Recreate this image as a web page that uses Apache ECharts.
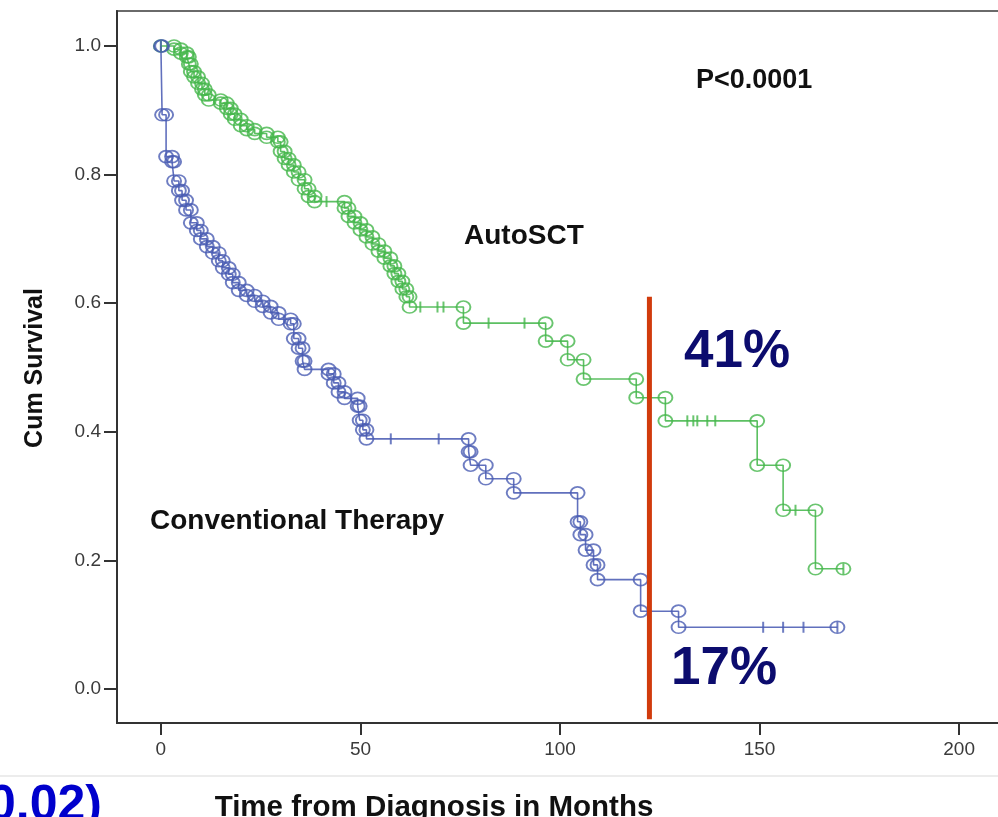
<!DOCTYPE html>
<html>
<head>
<meta charset="utf-8">
<script src="https://cdn.jsdelivr.net/npm/echarts@6/dist/echarts.min.js"></script>
<style>
html,body{margin:0;padding:0;background:#fff;}
#chart{width:998px;height:817px;}
</style>
</head>
<body>
<div id="chart"></div>
<script>
// ---- data ----
const xTicks = [0, 50, 100, 150, 200];
const yTicks = [0.0, 0.2, 0.4, 0.6, 0.8, 1.0];

// AutoSCT: [month, survival after event]
const autoEvents = [
  [3.3,0.995],[5,0.989],[6.5,0.983],[7,0.972],[7.5,0.960],[8.3,0.952],[9.3,0.942],
  [10.3,0.933],[11,0.924],[12,0.916],[15,0.911],[16.5,0.903],[17.5,0.894],[18.5,0.886],
  [20,0.876],[21.5,0.870],[23.5,0.864],[26.5,0.858],[29.3,0.851],[30,0.836],[31,0.825],
  [32,0.815],[33.3,0.804],[34.5,0.792],[36,0.778],[37,0.766],[38.5,0.758],[46,0.748],
  [47,0.735],[48.5,0.725],[50,0.714],[51.5,0.703],[53,0.692],[54.5,0.681],[56,0.670],
  [57.5,0.658],[58.5,0.646],[59.5,0.634],[60.5,0.622],[61.5,0.610],[62.3,0.594],
  [75.8,0.569],[96.4,0.541],[101.9,0.512],[105.9,0.482],[119.1,0.453],[126.4,0.417],
  [149.4,0.348],[155.9,0.278],[164,0.187]
];
const autoCensor = [0, 41.5, 65, 69.3, 70.8, 82.1, 91.1, 131.9, 133.4, 134.4, 136.9, 138.9, 159, 171];
const autoEnd = 171;

// Conventional Therapy
const convEvents = [
  [0.3,0.893],[1.3,0.828],[2.8,0.820],[3.3,0.790],[4.5,0.775],[5.3,0.760],[6.3,0.745],
  [7.5,0.725],[9,0.713],[10,0.700],[11.5,0.688],[13,0.678],[14.5,0.666],[15.5,0.655],
  [17,0.645],[18,0.632],[19.5,0.620],[21.5,0.612],[23.5,0.603],[25.5,0.595],[27.5,0.585],
  [29.5,0.575],[32.5,0.568],[33.3,0.545],[34.5,0.530],[35.5,0.510],[36,0.497],[42,0.490],
  [43.3,0.476],[44.5,0.462],[46,0.452],[49.3,0.440],[49.8,0.418],[50.6,0.403],[51.5,0.389],
  [77.1,0.369],[77.6,0.348],[81.4,0.327],[88.4,0.305],[104.4,0.260],[105.1,0.240],
  [106.4,0.216],[108.4,0.193],[109.4,0.170],[120.2,0.121],[129.7,0.096]
];
const convCensor = [0, 57.6, 69.6, 150.9, 155.9, 161, 169.5];
const convEnd = 169.5;

const cutoffMonth = 122.4;
const cutoffTop = 0.61;

// ---- helpers ----
const GREEN = '#45b64b', GREEN_L = '#5cc062';
const BLUE = '#4a5db3', BLUE_L = '#6170bd';

function stepPath(ev, end) {
  const pts = [[0, 1]];
  ev.forEach(e => pts.push([e[0], e[1]]));
  pts.push([end, ev[ev.length - 1][1]]);
  return pts;
}
function corners(ev, end) {
  const pts = [[0, 1]];
  let prev = 1;
  ev.forEach(e => { pts.push([e[0], prev]); pts.push([e[0], e[1]]); prev = e[1]; });
  pts.push([end, prev]);
  return pts;
}
function survAt(ev, t) {
  let s = 1;
  ev.forEach(e => { if (e[0] <= t) s = e[1]; });
  return s;
}
function censorPts(ev, cs) { return cs.map(c => [c, survAt(ev, c)]); }

function curve(name, ev, end, cs, col, colL) {
  return [
    { name: name, type: 'line', step: 'end', data: stepPath(ev, end), showSymbol: false,
      symbol: 'none', lineStyle: { color: colL, width: 1.6 }, z: 3, animation: false },
    { name: name + ' o', type: 'scatter', data: corners(ev, end), symbol: 'circle',
      symbolSize: [14, 12], itemStyle: { color: 'rgba(0,0,0,0)', borderColor: col, borderWidth: 1.8 },
      z: 4, animation: false, silent: true },
    { name: name + ' +', type: 'scatter', data: censorPts(ev, cs), symbol: 'rect',
      symbolSize: [2, 11], itemStyle: { color: col }, z: 5, animation: false, silent: true }
  ];
}

const chart = echarts.init(document.getElementById('chart'));
const option = {
  backgroundColor: '#fff',
  animation: false,
  grid: { left: 117, top: 11, width: 902, height: 712, show: true, outerBoundsMode: 'none',
          containLabel: false,
          borderColor: '#6a6a6a', borderWidth: 2, backgroundColor: 'transparent' },
  xAxis: {
    type: 'value', min: -11, max: 215,
    axisLine: { show: true, onZero: false, lineStyle: { color: '#333', width: 2 } },
    axisTick: { show: true, customValues: xTicks, length: 12, inside: false, lineStyle: { color: '#333', width: 2 } },
    axisLabel: { customValues: xTicks, margin: 17, fontFamily: 'Liberation Sans, Arial, sans-serif',
                 fontSize: 19, color: '#3a3a3a' },
    splitLine: { show: false }
  },
  yAxis: {
    type: 'value', min: -0.0529, max: 1.0544,
    axisLine: { show: true, onZero: false, lineStyle: { color: '#333', width: 2 } },
    axisTick: { show: true, customValues: yTicks, length: 13, inside: false, lineStyle: { color: '#333', width: 2 } },
    axisLabel: { customValues: yTicks, margin: 16, fontFamily: 'Liberation Sans, Arial, sans-serif',
                 fontSize: 19, color: '#3a3a3a', formatter: v => v.toFixed(1) },
    splitLine: { show: false }
  },
  series: [
    ...curve('AutoSCT', autoEvents, autoEnd, autoCensor, GREEN, GREEN_L),
    ...curve('Conventional Therapy', convEvents, convEnd, convCensor, BLUE, BLUE_L),
    { name: 'cutoff', type: 'line', data: [[cutoffMonth, -0.047], [cutoffMonth, cutoffTop]],
      symbol: 'none', lineStyle: { color: '#d13b0c', width: 5 }, z: 6, animation: false }
  ],
  graphic: [
    { type: 'rect', shape: { x: 0, y: 775, width: 998, height: 2 }, style: { fill: '#ececec' }, silent: true },
    { type: 'text', x: 696, y: 94, style: { text: 'P<0.0001', font: 'bold 27px "Liberation Sans", Arial, sans-serif',
      fill: '#111', textVerticalAlign: 'bottom' } },
    { type: 'text', x: 464, y: 250, style: { text: 'AutoSCT', font: 'bold 28px "Liberation Sans", Arial, sans-serif',
      fill: '#111', textVerticalAlign: 'bottom' } },
    { type: 'text', x: 150, y: 535, style: { text: 'Conventional Therapy', font: 'bold 28px "Liberation Sans", Arial, sans-serif',
      fill: '#111', textVerticalAlign: 'bottom' } },
    { type: 'text', x: 684, y: 379, style: { text: '41%', font: 'bold 53px "Liberation Sans", Arial, sans-serif',
      fill: '#0c0c6e', textVerticalAlign: 'bottom' } },
    { type: 'text', x: 671, y: 696, style: { text: '17%', font: 'bold 53px "Liberation Sans", Arial, sans-serif',
      fill: '#0c0c6e', textVerticalAlign: 'bottom' } },
    { type: 'text', x: 35, y: 368, rotation: Math.PI / 2,
      style: { text: 'Cum Survival', font: 'bold 25px "Liberation Sans", Arial, sans-serif',
      fill: '#111', textAlign: 'center', textVerticalAlign: 'middle' } },
    { type: 'text', x: 434, y: 808, style: { text: 'Time from Diagnosis in Months',
      font: 'bold 29.5px "Liberation Sans", Arial, sans-serif', fill: '#111', textAlign: 'center', textVerticalAlign: 'middle' } },
    { type: 'text', x: 102, y: 831, style: { text: '(p=0.02)', font: 'bold 50px "Liberation Sans", Arial, sans-serif',
      fill: '#0000cc', textAlign: 'right', textVerticalAlign: 'bottom' } }
  ]
};
chart.setOption(option);
</script>
</body>
</html>
